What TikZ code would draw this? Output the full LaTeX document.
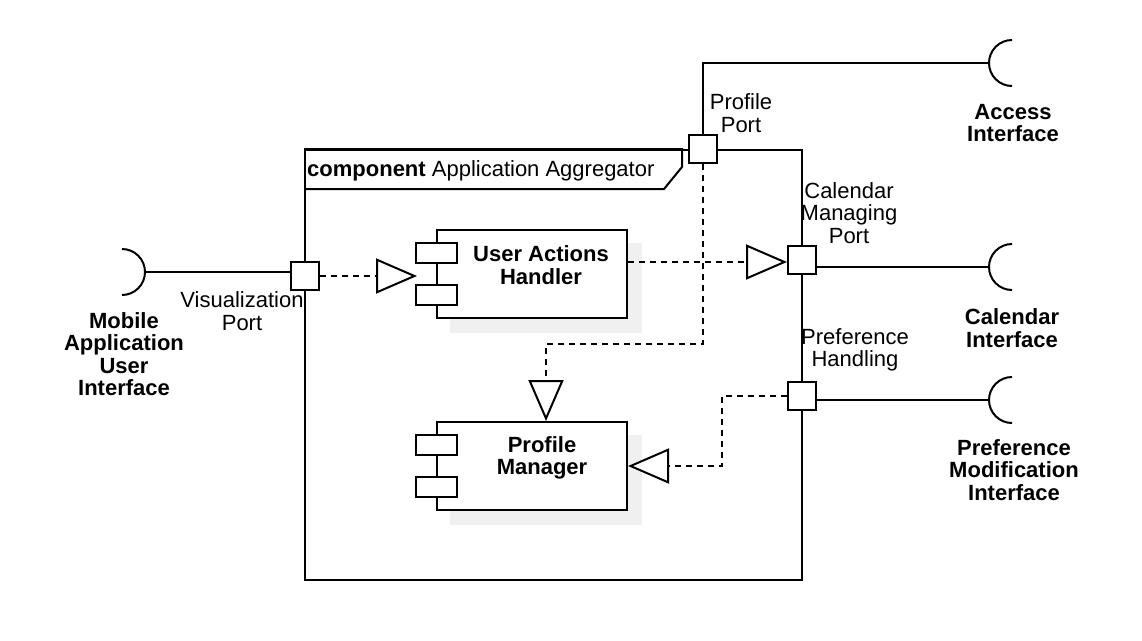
\documentclass[tikz,border=0pt]{standalone}
\usepackage{fontspec}
\setmainfont{Liberation Sans}
\usetikzlibrary{arrows.meta, positioning, backgrounds}

\tikzset{
  umlfont/.style={font=\fontsize{22}{22.5}\selectfont},
  lbl/.style={umlfont, align=center, inner sep=0pt},
  ifacelbl/.style={lbl, font=\fontsize{22}{22.5}\selectfont\bfseries},
  aggrframe/.style={draw, line width=2pt, minimum width=497pt, minimum height=430pt, inner sep=0pt},
  comp/.style={draw, fill=white, line width=2pt, minimum width=190pt, minimum height=88pt, inner sep=0pt},
  compbar/.style={draw, fill=white, line width=2pt, minimum width=41pt, minimum height=20pt, inner sep=0pt},
  compshadow/.style={fill=black!6},
  port/.style={draw, fill=white, line width=2pt, minimum size=28pt, inner sep=0pt},
  wire/.style={line width=2pt},
  socket/.style={line width=2pt},
  dep/.style={line width=2pt, dash pattern=on 6pt off 5pt,
    -{Triangle[length=41pt, width=35pt, fill=white]}}
}

\begin{document}
\begin{tikzpicture}[x=1pt, y=-1pt]
  \useasboundingbox (0,0) rectangle (1142,640);

  % aggregator frame with its name tab
  \node[aggrframe] (aggr) at (553.5,365) {};
  \draw[wire] (aggr.north west) -- ++(378,0) -- ++(0,18) -- ++(-18,22) -- ++(-360,0);
  \node[lbl, anchor=west] (aggrname) at (307,171) {\textbf{component} Application Aggregator};

  % inner components
  \node[comp] (uah) at (532,274) {};
  \node[comp] (pm) at (532,466) {};
  \foreach \c in {uah,pm}{
    \node[compbar] (\c-bar1) at ([shift={(0,-21)}]\c.west) {};
    \node[compbar] (\c-bar2) at ([shift={(0,21)}]\c.west) {};
  }
  \begin{scope}[on background layer]
    \foreach \c in {uah,pm}
      \fill[compshadow] ([shift={(14,14)}]\c.north west) rectangle ([shift={(14,14)}]\c.south east);
  \end{scope}
  \node[ifacelbl] (uahname) at (541,265) {User Actions\\Handler};
  \node[ifacelbl] (pmname) at (542,458) {Profile\\Manager};

  % ports
  \node[port] (visp) at (305,276) {};
  \node[port] (profp) at (703,149) {};
  \node[port] (calp) at (802,260) {};
  \node[port] (prefp) at (802,396) {};

  % required interfaces
  \coordinate (mobsock) at (145,272);
  \coordinate (accsock) at (989,63);
  \coordinate (calsock) at (989,267);
  \coordinate (prefsock) at (989,400);
  \draw[socket] (mobsock) arc[start angle=0, end angle=90, radius=23]
                (mobsock) arc[start angle=0, end angle=-90, radius=23];
  \foreach \s in {accsock,calsock,prefsock}{
    \draw[socket] (\s) arc[start angle=180, end angle=90, radius=23]
                  (\s) arc[start angle=180, end angle=270, radius=23];
  }

  \draw[wire] (mobsock) -- (mobsock -| visp.west);
  \draw[wire] (profp.north) |- (accsock);
  \draw[wire] (calsock -| calp.east) -- (calsock);
  \draw[wire] (prefsock -| prefp.east) -- (prefsock);

  % dependencies
  \coordinate (uahtip) at ([xshift=-19pt]uah.west);
  \coordinate (pmtop) at ([xshift=14pt]pm.north);
  \draw[dep] (visp.east) -- (visp.east -| uahtip);
  \draw[dep] ([yshift=-2pt]calp.west -| uah.east) -- ([yshift=-2pt]calp.west);
  \draw[dep] (profp.south) -- ++(0,180) -| (pmtop);
  \draw[dep] (prefp.west) -- ++(-65,0) |- (pm.east);

  % labels
  \node[lbl] (profplbl) at (741,113) {Profile\\Port};
  \node[lbl] (visplbl) at (242,311) {Visualization\\Port};
  \node[lbl] (calplbl) at (849,213) {Calendar\\Managing\\Port};
  \node[lbl] (prefplbl) at (855,350) {Preference\\Handling};
  \node[ifacelbl] (mobname) at (124,354) {Mobile\\Application\\User\\Interface};
  \node[ifacelbl] (accname) at (1013,123) {Access\\Interface};
  \node[ifacelbl] (calname) at (1012,328) {Calendar\\Interface};
  \node[ifacelbl] (prefname) at (1014,470) {Preference\\Modification\\Interface};
\end{tikzpicture}
\end{document}
